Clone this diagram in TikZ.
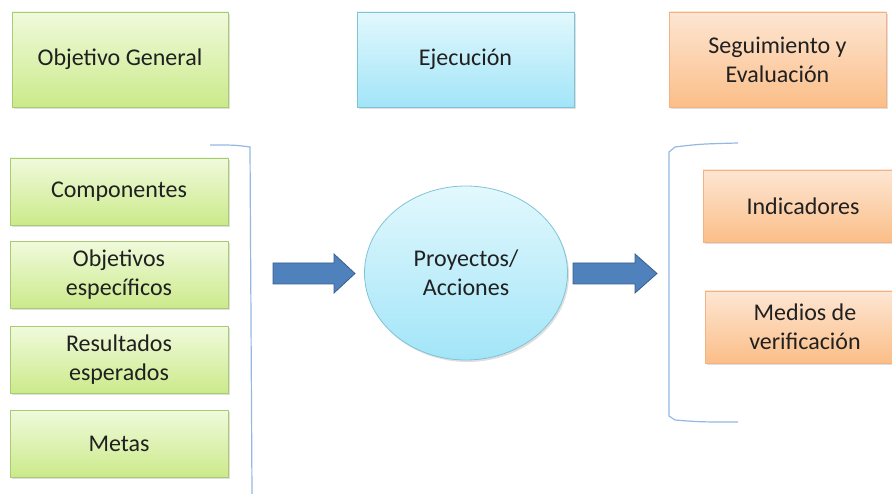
\documentclass[tikz,border=0pt]{standalone}
\usepackage{fontspec}
\setmainfont{Carlito}
\usetikzlibrary{shapes.geometric,shadows}
\definecolor{greentop}{HTML}{F0FADC}
\definecolor{greenbot}{HTML}{CBEA8A}
\definecolor{greenline}{HTML}{A9CC72}
\definecolor{bluetop}{HTML}{E2F8FD}
\definecolor{bluebot}{HTML}{A2E5F8}
\definecolor{blueline}{HTML}{7FC4D6}
\definecolor{orangetop}{HTML}{FDE6D3}
\definecolor{orangebot}{HTML}{FBBE88}
\definecolor{orangeline}{HTML}{F4B184}
\definecolor{arrowfill}{HTML}{4F81BD}
\definecolor{arrowline}{HTML}{385D8A}
\definecolor{bracketline}{HTML}{95B8E3}
\definecolor{textgray}{HTML}{202020}
\begin{document}
\begin{tikzpicture}[x=1pt,y=-1pt,
    box/.style={rectangle,align=center,text=textgray,inner sep=0pt,
      font=\fontsize{24}{29}\selectfont,line width=0.8pt,
      drop shadow={opacity=0.25,shadow xshift=1.5pt,shadow yshift=-2pt}},
    greenbox/.style={box,draw=greenline,top color=greentop,bottom color=greenbot},
    bluebox/.style={box,draw=blueline,top color=bluetop,bottom color=bluebot},
    orangebox/.style={box,draw=orangeline,top color=orangetop,bottom color=orangebot},
    bigarrow/.style={fill=arrowfill,draw=arrowline,line width=0.8pt,line join=miter},
    bracket/.style={draw=bracketline,line width=1.2pt}]
      \useasboundingbox (0,0) rectangle (892,494);
      % top row
      \node[greenbox,minimum width=216pt,minimum height=95pt] (general) at (120,59.5) {Objetivo General};
      \node[bluebox,minimum width=217pt,minimum height=95pt] (ejecucion) at (465.5,59.5) {Ejecución};
      \node[orangebox,minimum width=217pt,minimum height=95pt] (seguimiento) at (777.5,59.5) {Seguimiento y\\Evaluación};
      % left column
      \node[greenbox,minimum width=218pt,minimum height=67pt] (componentes) at (119,191.5) {Componentes};
      \node[greenbox,minimum width=218pt,minimum height=67pt] (especificos) at (119,275) {Objetivos\\específicos};
      \node[greenbox,minimum width=218pt,minimum height=67pt] (resultados) at (119,360) {Resultados\\esperados};
      \node[greenbox,minimum width=218pt,minimum height=67pt] (metas) at (119,443.5) {Metas};
      % centre
      \node[bluebox,ellipse,minimum width=203pt,minimum height=174pt] (proyectos) at (466,273) {Proyectos/\\Acciones};
      % right column
      \node[orangebox,minimum width=200pt,minimum height=72pt] (indicadores) at (803,206) {Indicadores};
      \node[orangebox,minimum width=200pt,minimum height=72pt] (medios) at (805,327) {Medios de\\verificación};
      % brackets
      \draw[bracket] (210,145) .. controls (235,145) .. (250,147) -- (252,494);
      \draw[bracket] (738,143) .. controls (700,144) .. (675,147) -- (669,152) -- (669,416) -- (675,420) .. controls (700,422) .. (738,422);
      % block arrows
      \draw[bigarrow] (273,263) -- (334,263) -- (334,254) -- (355,273.5) -- (334,293) -- (334,284) -- (273,284) -- cycle;
      \draw[bigarrow] (573,263) -- (635,263) -- (635,254) -- (657,273.5) -- (635,293) -- (635,284) -- (573,284) -- cycle;
    \end{tikzpicture}
\end{document}
